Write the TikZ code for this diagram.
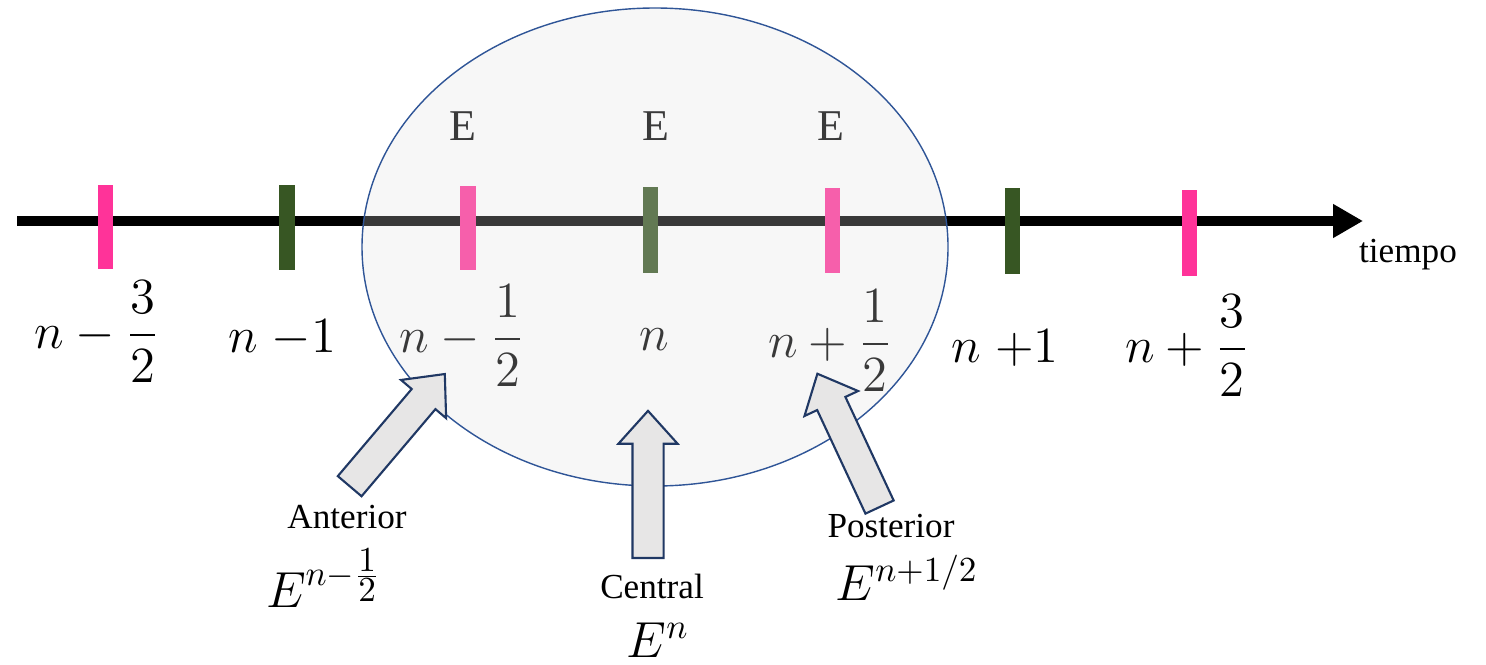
\documentclass[tikz,border=0pt]{standalone}
\usepackage{amsmath}
\usepackage[no-math]{fontspec}
\setmainfont{Liberation Serif}
\usetikzlibrary{arrows.meta, shapes.arrows}
\definecolor{tickpink}{RGB}{255,51,153}
\definecolor{tickgreen}{RGB}{55,86,35}
\definecolor{ovalblue}{RGB}{47,85,151}
\definecolor{ovalfill}{RGB}{223,223,224}
\definecolor{arrowblue}{RGB}{32,56,100}
\definecolor{arrowfill}{RGB}{231,230,230}

\begin{document}
\begin{tikzpicture}[x=0.01cm, y=-0.01cm,
  mathlabel/.style={font=\Large, anchor=base, inner sep=0pt},
  toplabel/.style={font=\fontsize{12.5}{15}\selectfont, anchor=base, inner sep=0pt},
  textlabel/.style={font=\normalsize, anchor=base, inner sep=0pt},
  blockarrow/.style={single arrow, draw=arrowblue, fill=arrowfill, line width=0.6pt,
    minimum height=1.47cm, inner xsep=0pt, inner ysep=0.145cm,
    single arrow head extend=0.14cm, single arrow tip angle=84, anchor=tail}]
\useasboundingbox (0,0) rectangle (1486,664);
% time axis
\coordinate (axisstart) at (17,221);
\coordinate (axisend) at (1363,221);
\draw [line width=0.09cm, -{Triangle[length=0.30cm, width=0.32cm]}] (axisstart) -- (axisend);
\fill [tickpink]  (98,185) rectangle (113,269);
\fill [tickgreen] (279,185) rectangle (295,270);
\fill [tickpink]  (460,186) rectangle (476,270);
\fill [tickgreen] (643,187) rectangle (658,273);
\fill [tickpink]  (825,188) rectangle (840,273);
\fill [tickgreen] (1005,188) rectangle (1020,274);
\fill [tickpink]  (1182,190) rectangle (1197,276);
% tick labels
\node (nm32) at (97,348) [mathlabel] {$n-\dfrac{3}{2}$};
\node (nm1) at (282,352) [mathlabel] {$n\;{-}1$};
\node (nm12) at (462,352) [mathlabel] {$n-\dfrac{1}{2}$};
\node (n0) at (654,350) [mathlabel] {$n$};
\node (np12) at (830,357) [mathlabel] {$n+\dfrac{1}{2}$};
\node (np1) at (1005,362) [mathlabel] {$n\;{+}1$};
\node (np32) at (1187,362) [mathlabel] {$n+\dfrac{3}{2}$};
\node (em12) at (463,140) [toplabel] {E};
\node (e0) at (656,140) [toplabel] {E};
\node (ep12) at (831,140) [toplabel] {E};
\node (tiempo) at (1408,262) [textlabel] {tiempo};
% stencil
\draw [ovalblue, line width=0.4pt, fill=ovalfill, fill opacity=0.26] (655,247) ellipse [x radius=293, y radius=239];
% block arrows
\node (anteriorarrow) at (349,487) [blockarrow, rotate=49.7] {};
\node (centralarrow) at (648,559) [blockarrow, rotate=90] {};
\node (posteriorarrow) at (880,508) [blockarrow, rotate=115] {};
\node (anterior) at (347,528) [textlabel] {Anterior};
\node (eanterior) at (324,607) [mathlabel] {$E^{n-\frac{\scriptstyle 1}{\scriptstyle 2}}$};
\node (central) at (652,598) [textlabel] {Central};
\node (ecentral) at (658,657) [mathlabel] {$E^{n}$};
\node (posterior) at (891,537) [textlabel] {Posterior};
\node (eposterior) at (907,600) [mathlabel] {$E^{n+1/2}$};
\end{tikzpicture}
\end{document}
